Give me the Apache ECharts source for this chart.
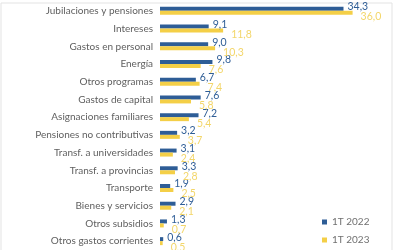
<!DOCTYPE html>
<html>
<head>
<meta charset="utf-8">
<script src="https://cdn.jsdelivr.net/npm/echarts@6/dist/echarts.min.js"></script>
<style>
  html, body { margin: 0; padding: 0; background: #fff; }
  #chart { width: 400px; height: 250px; }
</style>
</head>
<body>
<div id="chart"></div>
<script>
// categorias (de arriba hacia abajo)
var categorias = [
  "Jubilaciones y pensiones", "Intereses", "Gastos en personal", "Energía",
  "Otros programas", "Gastos de capital", "Asignaciones familiares",
  "Pensiones no contributivas", "Transf. a universidades", "Transf. a provincias",
  "Transporte", "Bienes y servicios", "Otros subsidios", "Otros gastos corrientes"
];
var serie2022 = [34.3, 9.1, 9.0, 9.8, 6.7, 7.6, 7.2, 3.2, 3.1, 3.3, 1.9, 2.9, 1.3, 0.6];
var serie2023 = [36.0, 11.8, 10.3, 7.6, 7.4, 5.8, 5.4, 3.7, 2.4, 2.8, 2.5, 2.1, 0.7, 0.5];
var nombres = ["1T 2022", "1T 2023"];

var azul = "#2e5d96";
var amarillo = "#f4cf47";

function coma(p) {
  return p.value.toFixed(1).replace(".", ",");
}

var myChart = echarts.init(document.getElementById("chart"));
var option = {
  animation: false,
  textStyle: { fontFamily: "Lato" },
  graphic: [{
    type: "rect",
    shape: { x: 1, y: 3, width: 391, height: 260 },
    style: { fill: "none", stroke: "#e3e3e3", lineWidth: 1 },
    silent: true
  }],
  legend: {
    data: nombres,
    orient: "vertical",
    left: 317,
    top: 212,
    itemWidth: 5,
    itemHeight: 5,
    itemGap: 8,
    icon: "rect",
    textStyle: { fontSize: 10, color: "#707070" }
  },
  grid: {
    left: 160,
    right: 26,
    top: 2,
    bottom: 0
  },
  xAxis: {
    type: "value",
    min: 0,
    max: 40,
    show: false
  },
  yAxis: {
    type: "category",
    inverse: true,
    data: categorias,
    axisLine: { show: false },
    axisTick: { show: false },
    axisLabel: { fontSize: 10, color: "#606060", margin: 7 }
  },
  series: [
    {
      name: nombres[0],
      type: "bar",
      data: serie2022,
      barWidth: 4,
      barGap: "0%",
      itemStyle: { color: azul },
      label: {
        show: true,
        position: "right",
        distance: 4,
        offset: [0, -2],
        fontSize: 10.5,
        color: azul,
        formatter: coma
      }
    },
    {
      name: nombres[1],
      type: "bar",
      data: serie2023,
      barWidth: 4,
      itemStyle: { color: amarillo },
      label: {
        show: true,
        position: "right",
        distance: 4,
        offset: [4, 4],
        fontSize: 10.5,
        color: "#f3d66a",
        formatter: coma
      }
    }
  ]
};
window.onresize = myChart.resize;
myChart.setOption(option);
</script>
</body>
</html>
